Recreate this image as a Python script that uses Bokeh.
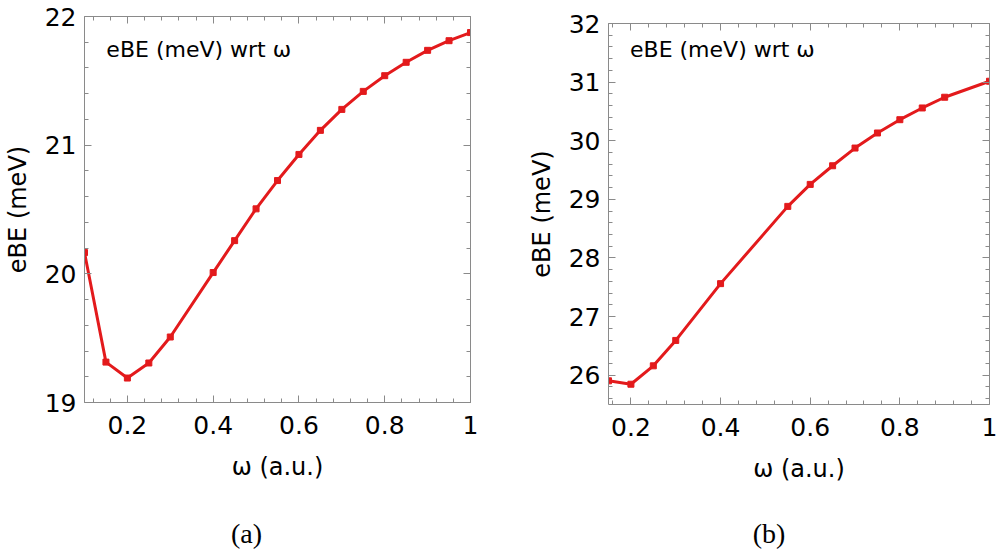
from bokeh.plotting import figure
from bokeh.models import (Range1d, SingleIntervalTicker, LinearAxis,
                          CustomJSTickFormatter, Label)
from bokeh.layouts import row, column
from bokeh.embed import file_html
from bokeh.resources import INLINE

# ---------------- data ----------------
omega_a = [0.1, 0.15, 0.2, 0.25, 0.3, 0.4, 0.45, 0.5, 0.55, 0.6, 0.65,
           0.7, 0.75, 0.8, 0.85, 0.9, 0.95, 1.0]
ebe_a = [20.165, 19.314, 19.19, 19.307, 19.509, 20.01, 20.258, 20.505,
         20.725, 20.928, 21.115, 21.278, 21.418, 21.54, 21.644, 21.737,
         21.812, 21.875]

omega_b = [0.15, 0.2, 0.25, 0.3, 0.4, 0.55, 0.6, 0.65, 0.7, 0.75, 0.8,
           0.85, 0.9, 1.0]
ebe_b = [25.904, 25.846, 26.16, 26.593, 27.562, 28.88, 29.255, 29.573,
         29.875, 30.132, 30.359, 30.559, 30.742, 31.015]

x_label = "ω (a.u.)"
y_label = "eBE (meV)"
inner_text = "eBE (meV) wrt ω"
captions = ["(a)", "(b)"]

RED = "#e31a1c"
GRAY = "#8a8a8a"
FONT = "DejaVu Sans"
BOTTOM = 96


def style_axis(ax, show_labels):
    ax.axis_line_color = GRAY
    ax.major_tick_line_color = GRAY
    ax.minor_tick_line_color = GRAY
    ax.major_tick_in = 7
    ax.major_tick_out = 0
    ax.minor_tick_in = 4
    ax.minor_tick_out = 0
    ax.major_label_text_font = FONT
    ax.major_label_text_color = "black"
    if show_labels:
        ax.major_label_text_font_size = "25px"
        ax.formatter = CustomJSTickFormatter(
            code="return String(Number(tick.toFixed(2)));")
    else:
        ax.major_label_text_font_size = "0px"
        ax.major_label_standoff = 0
        ax.axis_label_standoff = 0
        ax.formatter = CustomJSTickFormatter(code="return '';")


def make(w, e, xr, yr, width, height, bl, br, tx, ty):
    p = figure(width=width, height=height, x_range=Range1d(*xr),
               y_range=Range1d(*yr), output_backend="svg",
               toolbar_location=None, min_border_left=bl,
               min_border_right=br, min_border_top=16,
               min_border_bottom=BOTTOM)
    p.title.visible = False
    p.outline_line_color = None
    p.grid.visible = False
    p.background_fill_color = "white"
    p.border_fill_color = "white"

    p.xaxis.ticker = SingleIntervalTicker(interval=0.2, num_minor_ticks=5)
    p.yaxis.ticker = SingleIntervalTicker(interval=1, num_minor_ticks=5)
    for ax in p.xaxis:
        style_axis(ax, True)
        ax.axis_label = x_label
        ax.major_label_standoff = 13
        ax.axis_label_standoff = 16
    for ax in p.yaxis:
        style_axis(ax, True)
        ax.axis_label = y_label
        ax.major_label_standoff = 8
        ax.axis_label_standoff = 10
    for ax in [p.xaxis[0], p.yaxis[0]]:
        ax.axis_label_text_font = FONT
        ax.axis_label_text_font_size = "24px"
        ax.axis_label_text_font_style = "normal"
        ax.axis_label_text_color = "black"

    top = LinearAxis(ticker=SingleIntervalTicker(interval=0.2, num_minor_ticks=5))
    style_axis(top, False)
    p.add_layout(top, "above")
    right = LinearAxis(ticker=SingleIntervalTicker(interval=1, num_minor_ticks=5))
    style_axis(right, False)
    p.add_layout(right, "right")

    p.line(w, e, line_color=RED, line_width=3)
    p.scatter(w, e, marker="square", size=6, fill_color=RED,
              line_color=RED)

    p.add_layout(Label(x=tx, y=ty, text=inner_text, text_font=FONT,
                       text_font_size="22px", text_color="black",
                       text_baseline="alphabetic"))
    return p


def caption(text, width, bl, br, xr, cx):
    c = figure(width=width, height=50, x_range=Range1d(*xr),
               y_range=Range1d(0, 50), output_backend="svg",
               toolbar_location=None, x_axis_location=None,
               y_axis_location=None, min_border_left=bl,
               min_border_right=br, min_border_top=0, min_border_bottom=0)
    c.title.visible = False
    c.outline_line_color = None
    c.grid.visible = False
    c.add_layout(Label(x=cx, y=17, text=text, text_font="Liberation Serif",
                       text_font_size="28px", text_color="black",
                       text_align="center", text_baseline="middle"))
    return c


p1 = make(omega_a, ebe_a, (0.1, 1.0), (19, 22), 500, 402 + BOTTOM, 83, 30,
          0.151, 21.74)
p2 = make(omega_b, ebe_b, (0.15, 1.0), (25.5, 32), 501, 397 + BOTTOM, 108,
          12, 0.198, 31.56)
p2.margin = (7, 0, 0, 0)

c1 = caption(captions[0], 500, 83, 30, (0.1, 1.0), 0.479)
c2 = caption(captions[1], 501, 108, 12, (0.15, 1.0), 0.508)

layout = column(row(p1, p2, spacing=0), row(c1, c2, spacing=0), spacing=0)
open("out.html", "w").write(file_html(layout, INLINE))
